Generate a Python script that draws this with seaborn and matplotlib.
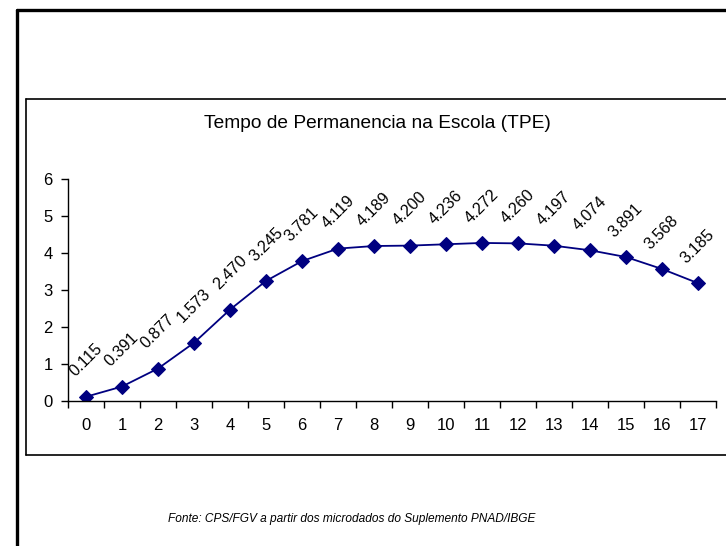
import matplotlib
matplotlib.use("Agg")
import matplotlib.pyplot as plt
from matplotlib.lines import Line2D
import numpy as np
import pandas as pd
import seaborn as sns

# --- Data ---
anos = list(range(18))
tpe = [0.115, 0.391, 0.877, 1.573, 2.470, 3.245, 3.781, 4.119, 4.189,
       4.200, 4.236, 4.272, 4.260, 4.197, 4.074, 3.891, 3.568, 3.185]
titulo = "Tempo de Permanencia na Escola (TPE)"
fonte = "Fonte: CPS/FGV a partir dos microdados do Suplemento PNAD/IBGE"

df = pd.DataFrame({"idade": anos, "tpe": tpe})

sns.set_style("white")
plt.rcParams['font.family'] = ['Liberation Sans', 'DejaVu Sans']
plt.rcParams['text.color'] = 'black'
plt.rcParams['xtick.color'] = 'black'
plt.rcParams['ytick.color'] = 'black'

W, H = 726, 546
fig = plt.figure(figsize=(W / 100, H / 100), dpi=100)


def fx(px):
    return px / W


def fy(py):
    return 1 - py / H


# --- Frames (outer and chart area) ---
fig.add_artist(Line2D([fx(17), fx(17)], [fy(10), 0], color='black', lw=2.4))
fig.add_artist(Line2D([fx(17), 1], [fy(10), fy(10)], color='black', lw=2.4))
fig.add_artist(Line2D([fx(26), fx(26)], [fy(99), fy(455)], color='black', lw=1.2))
fig.add_artist(Line2D([fx(26), 1], [fy(99), fy(99)], color='black', lw=1.2))
fig.add_artist(Line2D([fx(26), 1], [fy(455), fy(455)], color='black', lw=1.2))

# --- Plot ---
ax = fig.add_axes([fx(68), fy(401), fx(716) - fx(68), fy(179) - fy(401)])
sns.lineplot(data=df, x="idade", y="tpe", ax=ax, color="#000080",
             marker="D", markersize=7, markeredgecolor="#000080", lw=1.3)

ax.set_xlim(-0.5, 17.5)
ax.set_ylim(0, 6)
ax.set_xlabel("")
ax.set_ylabel("")
sns.despine(ax=ax)
for s in ("left", "bottom"):
    ax.spines[s].set_linewidth(1.0)
    ax.spines[s].set_color("black")

ax.set_yticks(range(7))
ax.tick_params(axis='y', which='major', left=True, length=5, width=1,
               labelsize=12, pad=6)
ax.set_xticks(anos)
ax.set_xticks(np.arange(-0.5, 18, 1), minor=True)
ax.tick_params(axis='x', which='major', bottom=False, length=0,
               labelsize=12, pad=12)
ax.tick_params(axis='x', which='minor', bottom=True, length=5, width=1)

for x, v in zip(anos, tpe):
    ax.annotate(f"{v:.3f}", (x, v), xytext=(0, 26.5), textcoords='offset points',
                ha='center', va='center', rotation=45, fontsize=11.6)

fig.text(fx(377), fy(123), titulo, ha='center', va='center', fontsize=13.8)
fig.text(fx(351.5), fy(519), fonte, ha='center', va='center', fontsize=8.6,
         style='italic')

fig.savefig("out.png", dpi=100)
